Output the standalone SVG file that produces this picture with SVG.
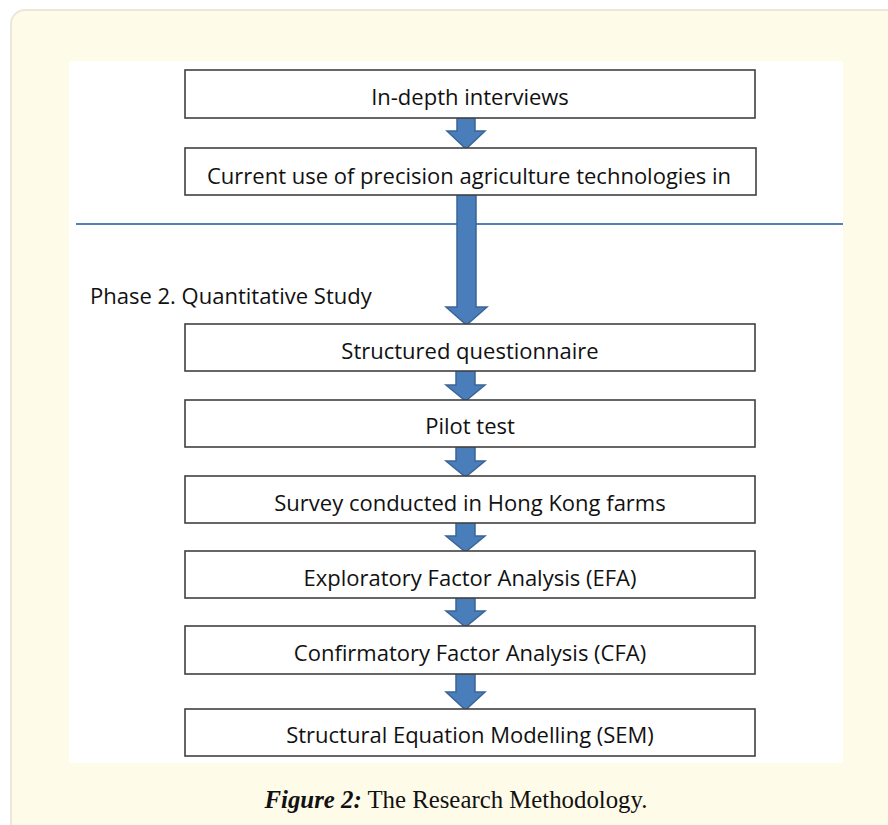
<svg xmlns="http://www.w3.org/2000/svg" width="888" height="825" viewBox="0 0 888 825">
<style>
.box{fill:#ffffff;stroke:#404040;stroke-width:1.6}
.lbl{font-family:"Open Sans","Liberation Sans",sans-serif;font-size:22px;fill:#111;text-anchor:middle}
.arr{fill:#4a7ebb;stroke:#3b6496;stroke-width:1.5;stroke-linejoin:miter}
.cap{font-family:"Liberation Serif",serif;font-size:24.8px;fill:#111}
</style>
<rect x="0" y="0" width="888" height="825" fill="#ffffff"/>
<rect x="11" y="10" width="900" height="840" rx="14" fill="#fffbe9" stroke="#ebe7db" stroke-width="2"/>
<rect x="69" y="61" width="774" height="702" fill="#ffffff"/>
<line x1="76" y1="224" x2="843" y2="224" stroke="#4f81bd" stroke-width="2"/>
<text x="90" y="304" font-family="Open Sans, Liberation Sans, sans-serif" font-size="22" fill="#111">Phase 2. Quantitative Study</text>
<g id="connectors">
<path class="arr" d="M457 117 H475 V131 H485 L466 149 L447 131 H457 Z"/>
<path class="arr" d="M457 194 H476 V307 H487 L466.5 325 L446 307 H457 Z"/>
<path class="arr" d="M456 370 H475 V385 H485 L465.5 401 L446 385 H456 Z"/>
<path class="arr" d="M456 446 H475 V461 H485 L465.5 477 L446 461 H456 Z"/>
<path class="arr" d="M456 522 H475 V536 H485 L465.5 552 L446 536 H456 Z"/>
<path class="arr" d="M456 597 H475 V611 H485 L465.5 627 L446 611 H456 Z"/>
<path class="arr" d="M456 673 H475 V692 H485 L465.5 710 L446 692 H456 Z"/>
</g>
<g id="n1"><rect class="box" x="185" y="70" width="570" height="48"/><text class="lbl" x="470" y="105">In-depth interviews</text></g>
<g id="n2"><rect class="box" x="185" y="148" width="571" height="47"/><text class="lbl" x="469" y="184">Current use of precision agriculture technologies in</text></g>
<g id="n3"><rect class="box" x="185" y="324" width="570" height="47"/><text class="lbl" x="470" y="359">Structured questionnaire</text></g>
<g id="n4"><rect class="box" x="185" y="400" width="570" height="47"/><text class="lbl" x="470" y="434">Pilot test</text></g>
<g id="n5"><rect class="box" x="185" y="476" width="570" height="47"/><text class="lbl" x="470" y="511">Survey conducted in Hong Kong farms</text></g>
<g id="n6"><rect class="box" x="185" y="551" width="570" height="47"/><text class="lbl" x="470" y="586">Exploratory Factor Analysis (EFA)</text></g>
<g id="n7"><rect class="box" x="185" y="626" width="570" height="48"/><text class="lbl" x="470" y="661">Confirmatory Factor Analysis (CFA)</text></g>
<g id="n8"><rect class="box" x="185" y="709" width="570" height="47"/><text class="lbl" x="470" y="743">Structural Equation Modelling (SEM)</text></g>
<text class="cap" x="456" y="808" text-anchor="middle"><tspan font-weight="bold" font-style="italic">Figure 2:</tspan> The Research Methodology.</text>
</svg>
